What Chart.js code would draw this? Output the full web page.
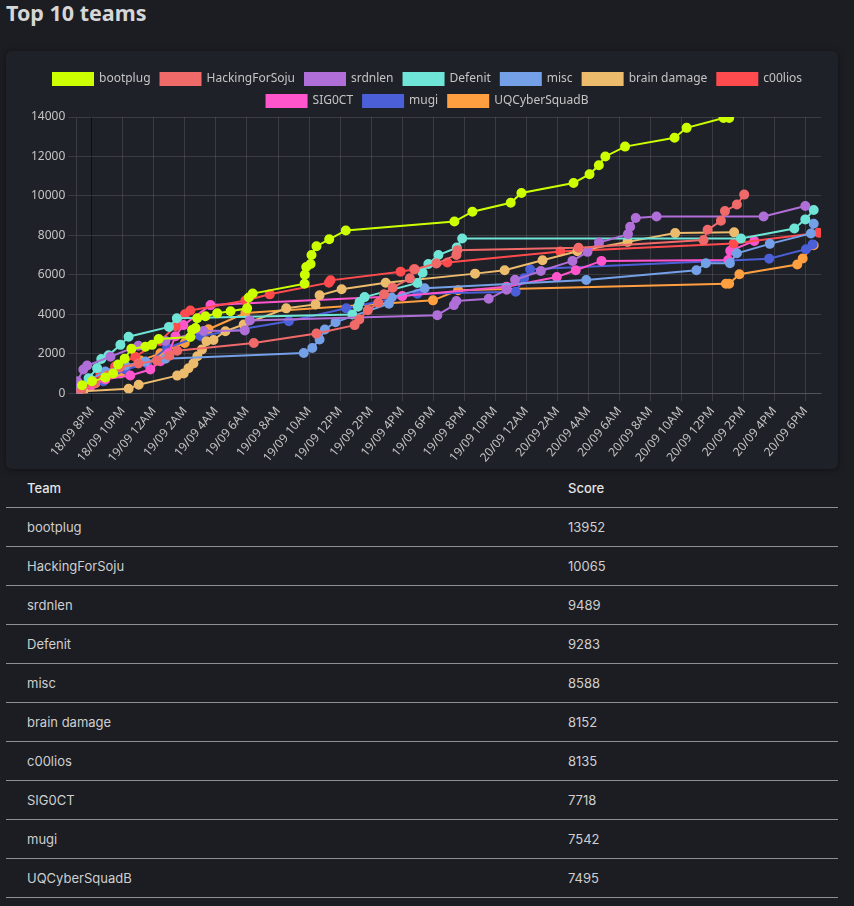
<!DOCTYPE html>
<html>
<head>
<meta charset="utf-8">
<script src="https://cdn.jsdelivr.net/npm/chart.js@4.4.1/dist/chart.umd.min.js"></script>
<style>
  html, body { margin: 0; padding: 0; background: #1b1d23; }
  body { width: 854px; height: 906px; overflow: hidden; position: relative; font-family: 'Noto Sans', sans-serif; }
  h2 { margin: 0; position: absolute; left: 6px; top: -1px; font-size: 21.5px; line-height: 28px; font-weight: 700; color: #d6d6d6; }
  .card { position: absolute; left: 6px; top: 51px; width: 832px; height: 418px; background: #1f2128; border-radius: 6px; box-shadow: 0 1px 6px rgba(0,0,0,0.4); }
  .chartbox { position: absolute; left: 16px; top: 12px; width: 805px; height: 405px; }
  table { position: absolute; left: 6px; top: 469px; width: 832px; border-collapse: collapse; font-family: Inter, sans-serif; font-size: 13px; }
  th, td { height: 38px; padding: 0 0 0 21px; text-align: left; border-bottom: 1px solid #8d8f94; color: #cfcfcf; font-weight: 400; }
  th { color: #e4e4e4; font-weight: 500; }
  th:first-child, td:first-child { width: 520px; }
</style>
</head>
<body>
<h2>Top 10 teams</h2>
<div class="card"><div class="chartbox"><canvas id="chart"></canvas></div></div>
<table id="scores"><thead><tr><th>Team</th><th>Score</th></tr></thead><tbody></tbody></table>
<script>
// x = hours after 18/09 8PM, y = score
const tickLabels = ['18/09 8PM', '18/09 10PM', '19/09 12AM', '19/09 2AM', '19/09 4AM', '19/09 6AM',
  '19/09 8AM', '19/09 10AM', '19/09 12PM', '19/09 2PM', '19/09 4PM', '19/09 6PM', '19/09 8PM',
  '19/09 10PM', '20/09 12AM', '20/09 2AM', '20/09 4AM', '20/09 6AM', '20/09 8AM', '20/09 10AM',
  '20/09 12PM', '20/09 2PM', '20/09 4PM', '20/09 6PM'];

const teams = ['bootplug', 'HackingForSoju', 'srdnlen', 'Defenit', 'misc', 'brain damage', 'c00lios', 'SIG0CT', 'mugi', 'UQCyberSquadB'];
const finalScores = [13952, 10065, 9489, 9283, 8588, 8152, 8135, 7718, 7542, 7495];
const colors = ['#ccff00', '#f06a6a', '#b06fd8', '#6fe5d7', '#74a0e8', '#ecbb6c', '#ff4b4e', '#ff55cc', '#4a5fd8', '#ff9f40'];

const bootplug = [[-0.63,400],[0.01,600],[0.87,800],[1.37,1000],[1.69,1450],[2.12,1750],[2.55,2250],[3.45,2350],[3.88,2450],[4.31,2750],[6.35,2850],[6.46,3200],[6.68,3300],[6.79,3800],[7.32,3900],[8.08,4050],[8.94,4150],[10.01,4300],[10.12,4850],[10.37,5050],[13.71,5550],[13.73,6000],[13.82,6400],[14.1,6550],[14.16,7000],[14.48,7450],[15.3,7800],[16.37,8250],[23.37,8700],[24.53,9200],[27.0,9650],[27.69,10150],[31.05,10650],[32.08,11100],[32.68,11550],[33.1,12000],[34.37,12500],[37.56,12950],[38.34,13450],[40.72,13950],[41.08,13952]];
const hackingForSoju = [[-0.7,100],[0.2,500],[1.0,900],[1.8,1300],[3.0,1500],[4.2,1650],[5.0,1900],[5.5,2150],[10.44,2545],[14.48,3020],[16.94,3450],[17.24,3740],[17.79,4200],[18.46,4580],[18.83,5010],[19.39,5350],[20.5,5820],[20.82,6280],[22.21,6570],[23.5,7010],[23.56,7250],[31.37,7370],[39.43,7760],[39.69,8280],[40.55,8740],[40.81,9230],[41.58,9560],[42.05,10065]];
const srdnlen = [[-1.0,0],[-0.94,600],[-0.55,1200],[-0.3,1400],[1.2,1850],[3.0,2400],[4.74,2650],[7.2,3150],[9.86,3180],[10.18,3690],[22.27,3955],[23.34,4465],[23.5,4670],[25.58,4785],[26.74,5245],[27.28,5750],[28.94,6195],[30.98,6705],[31.95,7163],[32.69,7636],[34.56,8064],[34.7,8436],[35.06,8879],[36.4,8960],[43.3,8960],[45.99,9489]];
const defenit = [[-0.87,100],[-0.21,760],[0.34,1270],[0.61,1730],[1.08,1920],[1.84,2450],[2.37,2860],[4.97,3360],[5.48,3800],[16.79,3990],[17.15,4380],[17.26,4620],[17.58,4870],[20.98,5585],[21.32,6110],[21.69,6550],[22.34,7000],[23.52,7380],[23.87,7840],[41.84,7840],[45.28,8350],[45.99,8810],[46.53,9283]];
const misc = [[-0.87,150],[-0.1,700],[0.87,1100],[2.16,1400],[3.45,1600],[4.74,1750],[13.66,2036],[14.21,2290],[14.68,2720],[15.02,3230],[15.71,3600],[19.15,4530],[19.32,4850],[21.45,5315],[31.87,5740],[38.97,6230],[39.58,6590],[41.13,6590],[41.58,7090],[43.7,7570],[46.35,8095],[46.53,8588]];
const brainDamage = [[-0.55,100],[2.37,220],[3.02,430],[5.5,890],[5.92,1000],[6.23,1260],[6.55,1510],[6.8,1870],[7.1,2220],[7.39,2630],[7.84,2700],[8.61,3140],[9.79,3480],[12.53,4300],[14.42,4500],[14.68,4960],[16.1,5265],[18.94,5600],[24.7,6060],[26.61,6230],[29.05,6740],[31.3,7190],[34.53,7670],[37.6,8115],[41.4,8152]];
const c00lios = [[-0.8,0],[-0.5,300],[0.55,1000],[1.5,1350],[2.8,1850],[4.4,2650],[5.4,3400],[6.0,4000],[6.35,4195],[9.9,4700],[11.47,5010],[15.28,5600],[15.39,5720],[19.9,6160],[20.76,6280],[22.92,6620],[30.2,7180],[41.37,7590],[46.85,8135]];
const sig0ct = [[-0.87,0],[-0.1,340],[0.87,700],[2.48,900],[3.77,1200],[4.42,1620],[4.94,2020],[5.39,2890],[5.9,3450],[7.65,4465],[20.01,4920],[26.73,5400],[29.97,5890],[31.19,6230],[32.85,6705],[41.02,6755],[41.15,7215],[42.7,7718]];
const mugi = [[-0.87,100],[0.74,600],[2.16,1200],[3.56,1500],[4.85,2300],[7.0,2900],[12.7,3650],[16.4,4300],[20.98,5040],[27.32,5140],[27.86,5825],[28.25,6280],[43.66,6820],[46.03,7300],[46.46,7542]];
const uqCyberSquadB = [[-0.87,0],[0.23,500],[1.84,1000],[3.13,1650],[4.42,2020],[5.99,2545],[7.52,3240],[9.9,4060],[21.99,4705],[23.61,5220],[40.87,5550],[41.08,5550],[41.74,6030],[45.47,6520],[45.82,6830],[46.53,7495]];

const series = [bootplug, hackingForSoju, srdnlen, defenit, misc, brainDamage, c00lios, sig0ct, mugi, uqCyberSquadB];

const textcol = '#c4c4c4';
const gridcol = 'rgba(255,255,255,0.12)';
Chart.defaults.font.family = "'Noto Sans', sans-serif";
Chart.defaults.font.size = 12;

const datasets = teams.map((name, i) => ({
    label: name,
    data: series[i].map(p => ({x: p[0], y: p[1]})),
    borderColor: colors[i],
    backgroundColor: colors[i],
    borderWidth: 2,
    pointRadius: 4,
    pointHoverRadius: 4,
    tension: 0
}));

new Chart(document.getElementById('chart'), {
    type: 'line',
    data: { datasets },
    options: {
        responsive: true,
        maintainAspectRatio: false,
        animation: false,
        layout: { padding: { left: 6, right: 0, bottom: 0 } },
        plugins: {
            legend: { labels: { color: textcol, boxWidth: 40, boxHeight: 12 } },
            tooltip: { enabled: false }
        },
        scales: {
            x: {
                type: 'linear', min: -1, max: 47,
                afterBuildTicks: axis => { axis.ticks = tickLabels.map((_, i) => ({value: i * 2})); },
                ticks: { color: textcol, autoSkip: false, minRotation: 50, maxRotation: 50,
                    callback: v => tickLabels[Math.round(v / 2)] },
                grid: { color: ctx => (ctx.tick && ctx.tick.value === 0) ? '#0d0e12' : gridcol },
                border: { color: gridcol }
            },
            y: {
                min: 0, max: 14000,
                ticks: { color: textcol, stepSize: 2000, callback: v => String(v) },
                grid: { color: gridcol },
                border: { color: gridcol }
            }
        }
    }
});

const tbody = document.querySelector('#scores tbody');
teams.forEach((name, i) => {
    const tr = document.createElement('tr');
    tr.innerHTML = `<td>${name}</td><td>${finalScores[i]}</td>`;
    tbody.appendChild(tr);
});
</script>
</body>
</html>
